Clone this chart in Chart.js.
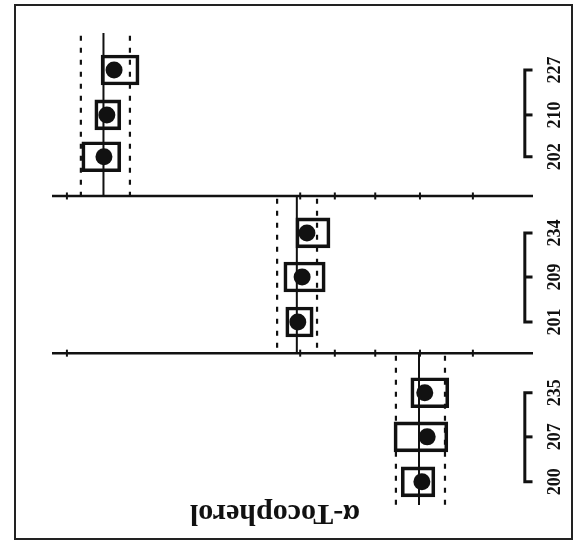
<!DOCTYPE html>
<html>
<head>
<meta charset="utf-8">
<script src="https://cdn.jsdelivr.net/npm/chart.js@4/dist/chart.umd.min.js"></script>
<style>
  html, body { margin: 0; padding: 0; background: #fff; }
  #wrap { width: 576px; height: 545px; }
</style>
</head>
<body>
<div id="wrap"><canvas id="c" width="576" height="545"></canvas></div>
<script>
// ---- data (arbitrary effect units on x, row positions on y) ----
const categories = ['227', '210', '202', '234', '209', '201', '235', '207', '200'];
const rowPos     = [0.83, 1.84, 2.78, 4.49, 5.48, 6.49, 8.08, 9.07, 10.08];
const pointEst   = [1.29, 1.14, 1.08, 5.30, 5.20, 5.11, 7.75, 7.80, 7.69];
const boxLow     = [1.02, 0.89, 0.62, 5.07, 4.82, 4.86, 7.46, 7.11, 7.26];
const boxHigh    = [1.81, 1.43, 1.43, 5.78, 5.68, 5.43, 8.25, 8.23, 7.96];

const panelMean   = [1.07, 5.09, 7.63];
const panelLow    = [0.60, 4.68, 7.15];
const panelHigh   = [1.62, 5.51, 8.17];
const panelTop    = [0.00, 3.66, 7.19];
const panelBottom = [3.66, 7.19, 10.60];

const axisRows  = [3.66, 7.19];
const axisRange = [0, 10];
const tickVals  = [0.31, 5.16, 5.88, 6.72, 7.65, 8.75];

const bracketX   = 9.83;
const bracketTip = 9.99;
const titleText  = 'α-Tocopherol';

const INK = '#111';

// ---- datasets built from the arrays ----
const datasets = [];

// boxes
datasets.push({
  type: 'bar',
  indexAxis: 'y',
  data: categories.map((c, i) => ({ x: [boxLow[i], boxHigh[i]], y: rowPos[i] })),
  backgroundColor: 'rgba(0,0,0,0)',
  borderColor: INK,
  borderWidth: 3,
  borderSkipped: false,
  barThickness: 30,
  clip: false,
  order: 2
});

// panel solid and dashed lines
panelMean.forEach((m, p) => {
  datasets.push({
    type: 'line',
    data: [{ x: m, y: panelTop[p] }, { x: m, y: panelBottom[p] }],
    borderColor: INK, borderWidth: 2, pointRadius: 0, clip: false, order: 3
  });
  [panelLow[p], panelHigh[p]].forEach(v => {
    datasets.push({
      type: 'line',
      data: [{ x: v, y: panelTop[p] + 0.06 }, { x: v, y: panelBottom[p] }],
      borderColor: INK, borderWidth: 2.2, borderDash: [5, 7], pointRadius: 0, clip: false, order: 3
    });
  });
});

// horizontal axis lines
axisRows.forEach(r => {
  datasets.push({
    type: 'line',
    data: [{ x: axisRange[0], y: r }, { x: axisRange[1], y: r }],
    borderColor: INK, borderWidth: 2.5, pointRadius: 0, clip: false, order: 3
  });
  datasets.push({
    type: 'scatter',
    data: tickVals.map(t => ({ x: t, y: r })),
    pointStyle: 'line', rotation: 90, pointRadius: 3.5,
    borderColor: INK, borderWidth: 2, clip: false, order: 3
  });
});

// brackets for each panel
for (let p = 0; p < 3; p++) {
  const a = rowPos[p * 3], b = rowPos[p * 3 + 1], c = rowPos[p * 3 + 2];
  datasets.push({
    type: 'line',
    data: [{ x: bracketTip, y: a }, { x: bracketX, y: a }, { x: bracketX, y: c }, { x: bracketTip, y: c }],
    borderColor: INK, borderWidth: 3, pointRadius: 0, clip: false, order: 3
  });
  datasets.push({
    type: 'line',
    data: [{ x: bracketX, y: b }, { x: bracketTip, y: b }],
    borderColor: INK, borderWidth: 3, pointRadius: 0, clip: false, order: 3
  });
}

// point estimates (dots)
datasets.push({
  type: 'scatter',
  data: categories.map((c, i) => ({ x: pointEst[i], y: rowPos[i] })),
  pointRadius: 8.5, pointHoverRadius: 8.5,
  backgroundColor: INK, borderColor: INK, borderWidth: 0,
  clip: false, order: 1
});

const decor = {
  id: 'decor',
  beforeDraw(chart) {
    const ctx = chart.ctx;
    ctx.save();
    ctx.fillStyle = '#fff';
    ctx.fillRect(0, 0, chart.width, chart.height);
    ctx.strokeStyle = '#222';
    ctx.lineWidth = 2;
    ctx.strokeRect(15, 5, 557, 534);
    ctx.restore();
  },
  afterDatasetsDraw(chart) {
    const ctx = chart.ctx;
    const ys = chart.scales.y;
    const area = chart.chartArea;
    ctx.save();
    ctx.fillStyle = INK;
    // row labels, rotated to read bottom-to-top
    ctx.font = 'bold 18px "Liberation Serif", "DejaVu Serif", serif';
    ctx.textAlign = 'center';
    ctx.textBaseline = 'middle';
    categories.forEach((c, i) => {
      const py = ys.getPixelForValue(rowPos[i]);
      ctx.save();
      ctx.translate(area.right + 22, py);
      ctx.rotate(-Math.PI / 2);
      ctx.fillText(c, 0, 0);
      ctx.restore();
    });
    // title, upside down
    ctx.font = 'bold 30px "Liberation Serif", "DejaVu Serif", serif';
    ctx.save();
    ctx.translate(275, 513);
    ctx.rotate(Math.PI);
    ctx.fillText(titleText, 0, 0);
    ctx.restore();
    ctx.restore();
  }
};

new Chart(document.getElementById('c'), {
  type: 'scatter',
  data: { datasets },
  options: {
    responsive: false,
    animation: false,
    events: [],
    layout: { padding: { left: 52, right: 43, top: 33, bottom: 40 } },
    plugins: { legend: { display: false }, tooltip: { enabled: false } },
    scales: {
      x: { type: 'linear', min: 0, max: 10, display: false, offset: false },
      y: { type: 'linear', min: 0, max: 10.6, reverse: true, display: false, offset: false }
    }
  },
  plugins: [decor]
});
</script>
</body>
</html>
